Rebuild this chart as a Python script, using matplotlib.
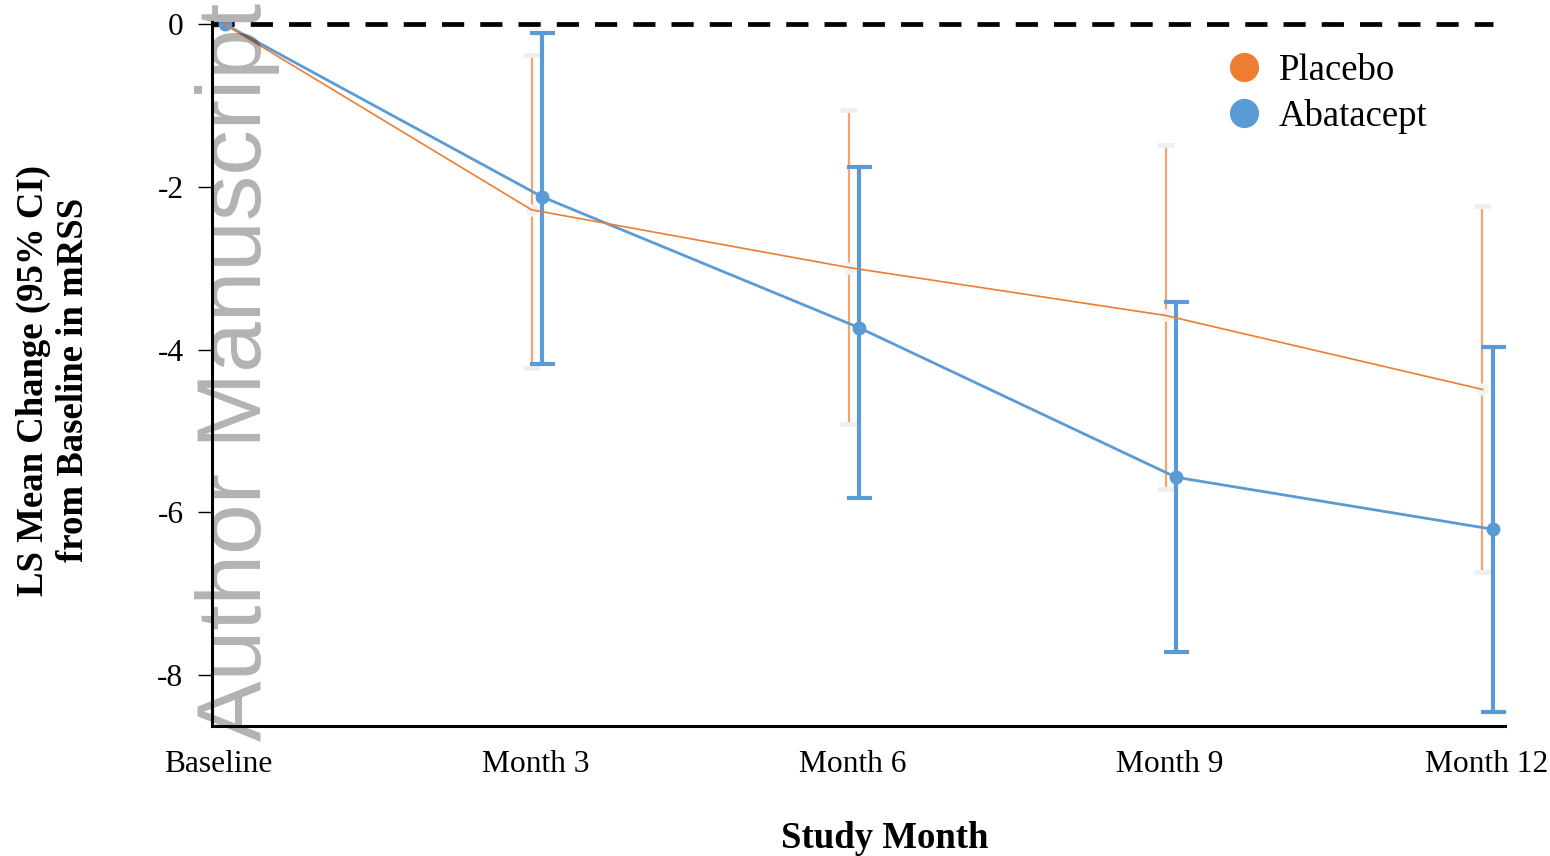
import matplotlib
matplotlib.use("Agg")
import matplotlib.pyplot as plt
from matplotlib.lines import Line2D
import numpy as np

# ---- data ----
timepoints = ["Baseline", "Month 3", "Month 6", "Month 9", "Month 12"]
placebo_mean = [0.0, -2.28, -2.99, -3.58, -4.49]
placebo_lo = [0.0, -4.23, -4.92, -5.71, -6.74]
placebo_hi = [0.0, -0.37, -1.05, -1.48, -2.23]
abatacept_mean = [0.0, -2.12, -3.73, -5.57, -6.21]
abatacept_lo = [0.0, -4.18, -5.82, -7.72, -8.46]
abatacept_hi = [0.0, -0.11, -1.75, -3.41, -3.97]
yticks = [0, -2, -4, -6, -8]

ORANGE = "#ED7D31"
ORANGE_LIGHT = "#F4A56E"
BLUE = "#5B9BD5"
SERIF = ["Liberation Serif", "DejaVu Serif"]

plt.rcParams["font.family"] = SERIF

fig = plt.figure(figsize=(15.5, 8.56), dpi=100)
ax = fig.add_axes([212 / 1550, 1 - 726 / 856, (1505 - 212) / 1550, (726 - 22) / 856])

x = np.arange(len(timepoints), dtype=float)
off = np.where(x > 0, -0.033, 0.0)
xp = x + off

pm = np.array(placebo_mean)
am = np.array(abatacept_mean)
p_err = np.vstack([pm - np.array(placebo_lo), np.array(placebo_hi) - pm])
a_err = np.vstack([am - np.array(abatacept_lo), np.array(abatacept_hi) - am])

xmin, xmax = -0.041, 4.038
ax.set_xlim(xmin, xmax)
ax.set_ylim(-8.63, 0.03)

# reference line at zero
ax.hlines(0, xmin, 4.0, colors="black", linewidth=3.4, linestyles=(0, (4.7, 3.4)),
          zorder=2)

# placebo error bars (months only)
ax.errorbar(xp[1:], pm[1:], yerr=p_err[:, 1:], fmt="none", ecolor=ORANGE_LIGHT,
            elinewidth=1.6, capsize=0, zorder=3)
ax.hlines(np.concatenate([placebo_lo[1:], placebo_hi[1:]]),
          np.concatenate([xp[1:], xp[1:]]) - 0.028,
          np.concatenate([xp[1:], xp[1:]]) + 0.028,
          colors="#EFEFEF", linewidth=3.5, zorder=3)

# abatacept error bars
ax.errorbar(x[1:], am[1:], yerr=a_err[:, 1:], fmt="none", ecolor=BLUE,
            elinewidth=3.0, capsize=9, capthick=3.0, zorder=4)
ax.plot(x, am, color=BLUE, linewidth=2.0, marker="o", markersize=9,
        markerfacecolor=BLUE, markeredgecolor=BLUE, zorder=5)

# placebo line and markers
ax.plot(xp, pm, color=ORANGE, linewidth=1.2, zorder=6)
ax.plot(xp[1:], pm[1:], linestyle="none", marker="o", markersize=8,
        markerfacecolor="#F2F2F2", markeredgecolor="#F2F2F2", zorder=5.5)

# axes styling
for s in ["top", "right"]:
    ax.spines[s].set_visible(False)
for s in ["left", "bottom"]:
    ax.spines[s].set_linewidth(2.2)
    ax.spines[s].set_color("black")

ax.set_yticks(yticks)
ax.set_yticklabels([str(v) for v in yticks])
ax.tick_params(axis="y", direction="out", length=10, width=1.0, pad=10.5,
               labelsize=22.7)
ax.set_xticks(x - 0.02)
ax.set_xticklabels(timepoints)
ax.tick_params(axis="x", length=0, pad=17, labelsize=22.7)

ax.set_xlabel("Study Month", fontsize=26.5, fontweight="bold")
ax.xaxis.set_label_coords(0.52, -0.16)
ax.xaxis.label.set_va("center")
ax.set_ylabel("LS Mean Change (95% CI)\nfrom Baseline in mRSS", fontsize=26.5,
              fontweight="bold", linespacing=1.2)
ax.yaxis.set_label_coords(-0.1225, 0.491)
ax.yaxis.label.set_va("center")

# legend
handles = [
    Line2D([], [], linestyle="none", marker="o", markersize=20,
           markerfacecolor=ORANGE, markeredgecolor=ORANGE, label="Placebo"),
    Line2D([], [], linestyle="none", marker="o", markersize=20,
           markerfacecolor=BLUE, markeredgecolor=BLUE, label="Abatacept"),
]
fig.legend(handles=handles, loc="upper left", bbox_to_anchor=(1222 / 1550, 1 - 53 / 856),
           frameon=False, fontsize=26.5, handletextpad=0.35, labelspacing=0.32,
           borderpad=0, borderaxespad=0, handlelength=1.2)

# watermark
fig.text(238 / 1550, 1 - 372 / 856, "Author Manuscript", rotation=90,
         ha="center", va="center", fontsize=65.5, color="black", alpha=0.3,
         family=["Liberation Sans", "DejaVu Sans"], zorder=10)

fig.savefig("out.png", dpi=100)
